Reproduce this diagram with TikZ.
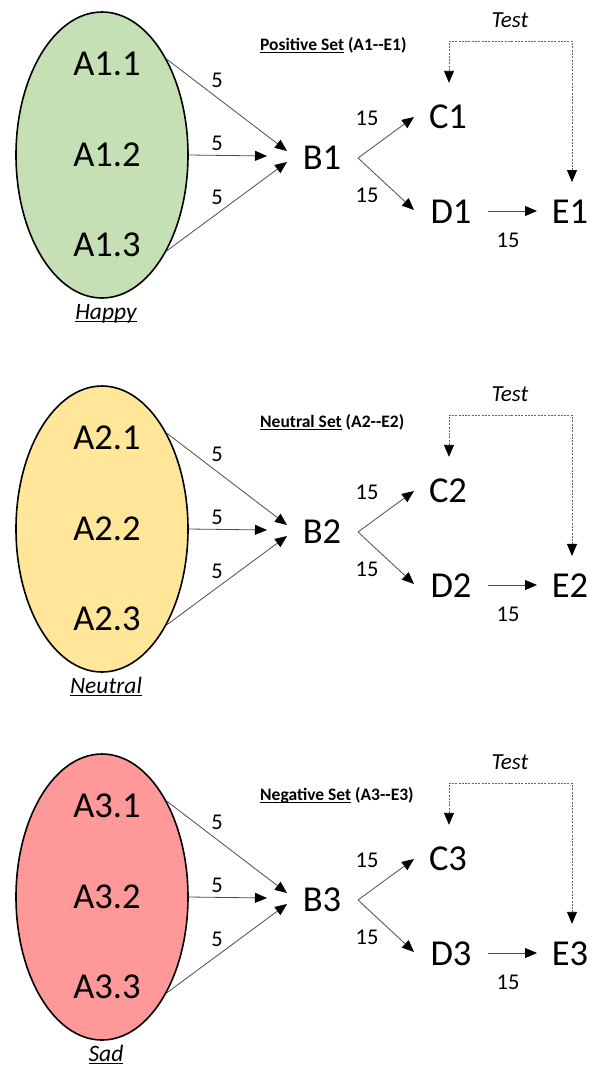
\documentclass[tikz,border=0pt]{standalone}
\usepackage{fontspec}
\setmainfont{Carlito}
\usetikzlibrary{shapes.geometric,arrows.meta,calc}

\definecolor{happyfill}{RGB}{197,224,180}
\definecolor{neutralfill}{RGB}{255,230,153}
\definecolor{sadfill}{RGB}{255,153,153}

% underline drawn as a rule through the descenders
\newcommand\undertext[1]{\setbox0=\hbox{#1}\rlap{\rule[-2.6pt]{\wd0}{1pt}}\box0\relax}

\tikzset{
  big/.style={font=\fontsize{36.5}{40}\selectfont, inner sep=0pt},
  num/.style={font=\fontsize{22.5}{26}\selectfont, inner sep=0pt},
  testlbl/.style={font=\itshape\fontsize{23}{26}\selectfont, inner sep=0pt},
  setlbl/.style={font=\bfseries\fontsize{17.5}{20}\selectfont, inner sep=0pt, anchor=base west},
  moodlbl/.style={font=\itshape\fontsize{23.5}{26}\selectfont, inner sep=0pt, anchor=base},
  blob/.style={ellipse, draw=black, line width=1.6pt, minimum width=172pt,
               minimum height=286pt, inner sep=0pt},
  link/.style={draw=black!70, line width=0.8pt,
               -{Triangle[length=12pt,width=10pt,color=black]}},
  testlink/.style={draw=black!60, line width=0.9pt, dash pattern=on 2pt off 1.3pt,
               {Triangle[length=12pt,width=10pt,color=black]}-{Triangle[length=12pt,width=10pt,color=black]}}
}

% one training/test set: #1 index, #2 vertical offset, #3 fill colour,
% #4 mood word, #5 set word, #6 baseline of the set heading
\newcommand\moodpanel[6]{%
  \node[blob, fill=#3] (ell#1) at (102,{155+#2}) {};
  \node[big] (A#1-1) at (107,{64+#2}) {A#1.1};
  \node[big] (A#1-2) at (107,{155+#2}) {A#1.2};
  \node[big] (A#1-3) at (107,{245+#2}) {A#1.3};
  \node[moodlbl] (mood#1) at (106,{319+#2}) {\undertext{#4}};
  \node[big] (B#1) at (322,{158+#2}) {B#1};
  \node[big] (C#1) at (448,{117+#2}) {C#1};
  \node[big] (D#1) at (451,{212+#2}) {D#1};
  \node[big] (E#1) at (570,{212+#2}) {E#1};
  \node[setlbl] (set#1) at (260,#6) {\undertext{#5 Set} (A#1-{}-E#1)};
  \node[testlbl] (test#1) at (510,{20+#2}) {Test};
  \coordinate (tc#1) at (510,{41+#2});
  % weights
  \node[num] (wa#1) at (217,{80+#2}) {5};
  \node[num] (wb#1) at (217,{143+#2}) {5};
  \node[num] (wc#1) at (217,{197+#2}) {5};
  \node[num] (wd#1) at (367,{118+#2}) {15};
  \node[num] (we#1) at (367,{195+#2}) {15};
  \node[num] (wf#1) at (508,{240+#2}) {15};
  % connectors
  \draw[link] (ell#1.56) -- ([xshift=-35pt,yshift=7pt]B#1.center);
  \draw[link] (ell#1.east) -- ([xshift=-55pt,yshift=2pt]B#1.center);
  \draw[link] (ell#1.-56) -- ([xshift=-35pt,yshift=-4pt]B#1.center);
  \draw[link] ([xshift=36pt]B#1.center) -- ([xshift=-34pt]C#1.center);
  \draw[link] ([xshift=36pt]B#1.center) -- ([xshift=-37pt,yshift=2pt]D#1.center);
  \draw[link] ([xshift=37pt,yshift=1pt]D#1.center) -- ([xshift=-33pt,yshift=1pt]E#1.center);
  \draw[testlink] ([xshift=1pt,yshift=22pt]C#1.north) |- (tc#1) -| ([xshift=2pt,yshift=18pt]E#1.north);
}

\begin{document}
\begin{tikzpicture}[x=1pt,y=-1pt]
  \useasboundingbox (0,0) rectangle (596,1066);
  \moodpanel{1}{0}{happyfill}{Happy}{Positive}{50}
  \moodpanel{2}{374}{neutralfill}{Neutral}{Neutral}{427}
  \moodpanel{3}{742}{sadfill}{Sad}{Negative}{800}
\end{tikzpicture}
\end{document}
